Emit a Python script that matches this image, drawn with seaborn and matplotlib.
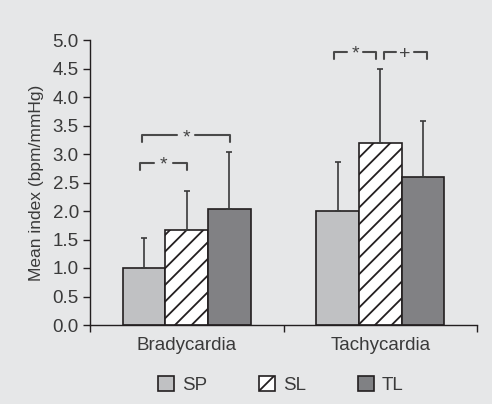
import pandas as pd
import seaborn as sns
import matplotlib.pyplot as plt
from matplotlib.patches import Patch

# valores
conditions = ["Bradycardia", "Tachycardia"]
groups = ["SP", "SL", "TL"]
sp_mean = [1.00, 2.00]
sl_mean = [1.67, 3.20]
tl_mean = [2.03, 2.60]
sp_err = [0.53, 0.86]
sl_err = [0.68, 1.29]
tl_err = [1.00, 0.98]

bg = "#e6e7e8"
ink = "#231f20"
text_col = "#3a3a3a"
colors = {"SP": "#c0c1c3", "SL": "#ffffff", "TL": "#808184"}

rows = []
for i, c in enumerate(conditions):
    for g, m, e in zip(groups, [sp_mean, sl_mean, tl_mean], [sp_err, sl_err, tl_err]):
        rows.append({"condition": c, "group": g, "value": m[i], "err": e[i]})
df = pd.DataFrame(rows)

sns.set_style("ticks")
plt.rcParams["font.family"] = ["Liberation Sans", "DejaVu Sans"]
plt.rcParams["hatch.linewidth"] = 1.3
plt.rcParams["hatch.color"] = ink

fig = plt.figure(figsize=(4.92, 4.04), dpi=100, facecolor=bg)
ax = fig.add_axes([90 / 492, 79 / 404, 387 / 492, 285 / 404])
ax.set_facecolor(bg)

sns.barplot(data=df, x="condition", y="value", hue="group", hue_order=groups,
            palette=colors, edgecolor=ink, linewidth=1.2, errorbar=None,
            width=0.66, gap=0, ax=ax, legend=False)

# hachura no SL e barras de erro só para cima
for container, g in zip(ax.containers, groups):
    sub = df[df["group"] == g]
    for patch, e in zip(container.patches, sub["err"]):
        if g == "SL":
            patch.set_hatch("//")
        x = patch.get_x() + patch.get_width() / 2
        h = patch.get_height()
        ax.errorbar(x, h, yerr=[[0], [e]], fmt="none", ecolor="#3a3a3a",
                    elinewidth=1.2, capsize=2, capthick=1.2, zorder=3)


def bracket(x1, x2, y, label, gap=0.045):
    d = 0.12
    xm = (x1 + x2) / 2
    ax.plot([x1, x1, xm - gap], [y - d, y, y], color="#4a4a4a", lw=1.5, clip_on=False)
    ax.plot([xm + gap, x2, x2], [y, y, y - d], color="#4a4a4a", lw=1.5, clip_on=False)
    ax.text(xm, y - 0.04, label, ha="center", va="center", fontsize=14, color="#444444")


bracket(-0.24, 0.0, 2.84, "*", gap=0.05)
bracket(-0.23, 0.222, 3.33, "*", gap=0.045)
bracket(0.762, 0.98, 4.79, "*", gap=0.042)
bracket(1.017, 1.24, 4.79, "+", gap=0.045)

ax.set_xlim(-0.5, 1.5)
ax.set_ylim(0, 5)
ax.set_yticks([i * 0.5 for i in range(11)])
ax.set_yticklabels([f"{i * 0.5:.1f}" for i in range(11)])
ax.set_xticks([-0.5, 0.5, 1.5], minor=False)
ax.set_xticklabels([])
ax.set_xticks([0, 1], minor=True)
ax.set_xticklabels(conditions, minor=True)
ax.tick_params(axis="x", which="minor", length=0, labelsize=13.5, colors=text_col, pad=9)
ax.tick_params(axis="x", which="major", length=5, width=1, color=ink)
ax.tick_params(axis="y", length=5, width=1, color=ink, labelsize=13.5, labelcolor=text_col, pad=3)
ax.set_xlabel("")
ax.set_ylabel("Mean index (bpm/mmHg)", fontsize=12.5, color=text_col, labelpad=6)
for s in ["top", "right"]:
    ax.spines[s].set_visible(False)
for s in ["left", "bottom"]:
    ax.spines[s].set_color(ink)
    ax.spines[s].set_linewidth(1)

handles = [Patch(facecolor=colors[g], edgecolor=ink, linewidth=1.2,
                 hatch="//" if g == "SL" else None, label=g) for g in groups]
leg = fig.legend(handles=handles, loc="center", bbox_to_anchor=(281 / 492, 19 / 404),
                 ncol=3, frameon=False, fontsize=13.5, handlelength=0.85, handleheight=0.85,
                 handletextpad=0.4, columnspacing=2.8)
for t in leg.get_texts():
    t.set_color(text_col)

fig.savefig("out.png", dpi=100, facecolor=bg)
